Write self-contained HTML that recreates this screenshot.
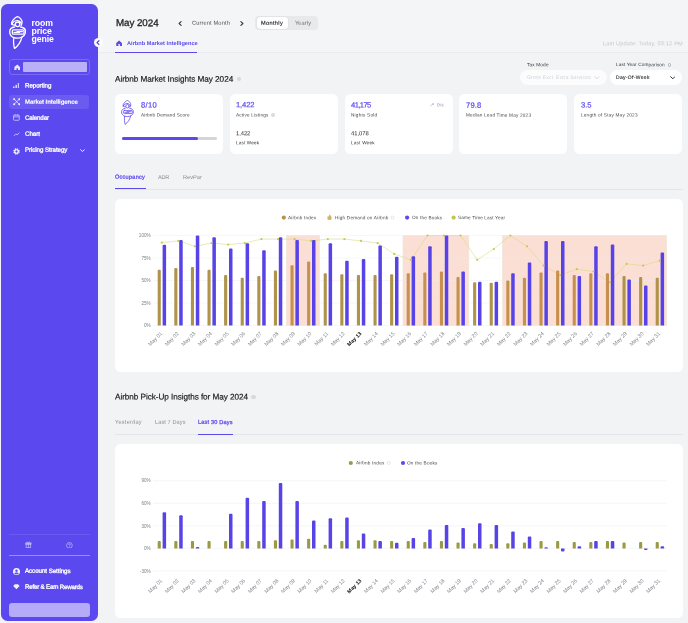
<!DOCTYPE html>
<html><head><meta charset="utf-8">
<style>
*{box-sizing:border-box;margin:0;padding:0}
html,body{width:688px;height:623px;overflow:hidden;background:#f1f3f5;font-family:"Liberation Sans",sans-serif;color:#222}
.a{position:absolute;white-space:nowrap;line-height:1}
#sb{position:absolute;left:1px;top:4px;width:96.700px;height:616.5px;background:#5b48ee;border-radius:6.5px}
.card{position:absolute;background:#fff;border-radius:5.5px}
svg text{font-family:"Liberation Sans",sans-serif}
.ax{font-size:4.6px;fill:#7d8187}
.xl{font-size:5.3px;fill:#7d8187}
.xl.b{font-weight:bold;fill:#111}
</style></head><body>
<div class="a" style="left:98px;top:0;width:590px;height:53px;background:#f3f5f7;border-bottom:.6px solid #e9ebee"></div>
<div id="sb"></div>
<!-- logo -->
<svg class="a" style="left:8.600px;top:15.900px" width="17.200" height="33.400" viewBox="0 0 17.200 33.400" fill="none" stroke="#fff" stroke-width="1.300" stroke-linecap="round" stroke-linejoin="round">
  <path d="M2.800 8C1.700 6 5.800 1.400 8.400 .7c2.200 .3 5.200 3.500 4.600 5.900-.1 1-.4 2-.8 2.800"/>
  <path d="M2.800 8C4.500 5.200 7.500 4 9.500 4.800c1.300 .5 2.100 1.300 2.500 2.200"/>
  <path d="M2.800 8c.8 .8 2 1.200 3.100 1"/>
  <circle cx="8.600" cy="8.300" r="2.300"/>
  <path d="M5.600 11C3 11.300 .7 13 .7 15.800c0 2.800 1.800 5 4.200 5.800-.7 3.400-.3 7.400 .6 11 3.500-2.600 6.300-6.600 7.400-11.400 2.100-1 3.600-3 3.600-5.600 0-2.600-2-4.300-4.900-4.600"/>
  <rect x="3.300" y="13.900" width="11.700" height="4.200" rx="1.200"/>
  <path d="M5 16.400h5.500M8 15.600h5.400M4.900 21.600c2.600 .8 5.500 .6 8-.4"/>
</svg>
<div class="a" style="left:31.600px;top:20.200px;color:#fff;font-size:8.700px;font-weight:bold;line-height:7.800px;letter-spacing:-.12px">room<br>price<br>genie</div>

<div class="a" style="left:8.800px;top:59.200px;width:81px;height:16px;border:.9px solid #7a6bf2;border-radius:3px"></div>
<div class="a" style="left:22.900px;top:62.400px;width:64.300px;height:9.300px;background:#b9b0f8;border-radius:1px"></div>
<svg class="a" style="left:13.800px;top:63.800px" width="6.500" height="6.600" viewBox="0 0 10 10"><path d="M5 .6L.5 4.700V9.500h3.300V6.400h2.400v3.100h3.300V4.700z" fill="#ebe8fd"/></svg>

<div class="a" style="left:9.300px;top:94.900px;width:79.800px;height:14px;background:#6c5bf0;border-radius:3px"></div>

<!-- nav icons -->
<svg class="a" style="left:13px;top:83px" width="6.400" height="5.400" viewBox="0 0 6.400 5.400" fill="#d4cefb"><rect x="0" y="3.300" width="1.600" height="2.100" rx=".4"/><rect x="2.400" y="1.700" width="1.600" height="3.700" rx=".4"/><rect x="4.800" y="0" width="1.600" height="5.400" rx=".4"/></svg>
<svg class="a" style="left:12.800px;top:98.200px" width="7.400" height="7.400" viewBox="0 0 10 10" fill="none" stroke="#fff" stroke-width=".95"><path d="M2 2l6 6M8 2L2 8"/><circle cx="1.500" cy="1.500" r=".9" fill="#fff"/><circle cx="8.500" cy="1.500" r=".9" fill="#fff"/><circle cx="1.500" cy="8.500" r=".9" fill="#fff"/><circle cx="8.500" cy="8.500" r=".9" fill="#fff"/></svg>
<svg class="a" style="left:13px;top:114.400px" width="6.800" height="6.800" viewBox="0 0 10 10" fill="none" stroke="#d9d4fc" stroke-width="1.100"><rect x=".8" y="1.600" width="8.400" height="7.600" rx="1"/><path d="M.8 4.200h8.400M3 .5v2M7 .5v2"/></svg>
<svg class="a" style="left:12.800px;top:130.600px" width="7.400" height="6.400" viewBox="0 0 10 10" fill="none" stroke="#d9d4fc" stroke-width="1.200"><path d="M.6 7.800l3-3.300 2 1.600 3.800-3.600"/></svg>
<svg class="a" style="left:12.700px;top:147.600px" width="7" height="7" viewBox="0 0 10 10"><circle cx="5" cy="5" r="3.700" fill="none" stroke="#fff" stroke-width="1.800" stroke-dasharray="1.700 1.200"/><circle cx="5" cy="5" r="2.500" fill="none" stroke="#fff" stroke-width="1.700"/></svg>
<svg class="a" style="left:80.200px;top:148.800px" width="5" height="3.400" viewBox="0 0 5 3.400" fill="none" stroke="#fff" stroke-width=".9" stroke-linecap="round"><path d="M.6 .7l1.900 1.900L4.400 .7"/></svg>

<div class="a" style="left:8.500px;top:534.300px;width:81px;height:.6px;background:#6a5af0"></div>
<div class="a" style="left:8.500px;top:554.700px;width:81px;height:.9px;background:#9a8ff6"></div>
<svg class="a" style="left:25.400px;top:541.400px" width="6.800" height="7" viewBox="0 0 10 10" fill="none" stroke="#cdc7fb" stroke-width="1"><rect x="1.600" y="4.300" width="6.800" height="4.900"/><rect x="1" y="2.900" width="8" height="1.500"/><path d="M5 2.900V9.200M5 2.900C3.600 .4 1.900 1.500 3 2.900M5 2.900C6.400 .4 8.100 1.500 7 2.900"/></svg>
<svg class="a" style="left:66.400px;top:541.600px" width="6.800" height="6.800" viewBox="0 0 10 10" fill="none" stroke="#cdc7fb" stroke-width=".95"><circle cx="5" cy="5" r="4.200"/><path d="M3.800 4.100C3.800 2.400 6.300 2.400 6.300 3.900C6.300 4.900 5 5 5 6.100" stroke-width=".9"/><circle cx="5" cy="7.500" r=".3"/></svg>
<svg class="a" style="left:13px;top:567.600px" width="7" height="7" viewBox="0 0 10 10"><circle cx="5" cy="5" r="5" fill="#f3f1fe"/><circle cx="5" cy="3.900" r="1.700" fill="#5b48ee"/><path d="M1.900 8.200c.7-2.500 5.500-2.500 6.200 0-.9 1-5.300 1-6.200 0z" fill="#5b48ee"/></svg>
<svg class="a" style="left:13px;top:584.200px" width="6.800" height="5.400" viewBox="0 0 10 8"><path d="M.3 3L2.600 .4h4.800L9.700 3 5 7.700z" fill="#f3f1fe"/></svg>
<div class="a" style="left:8.800px;top:602.600px;width:81.200px;height:14.400px;background:#b6abf8;border-radius:3px"></div>

<!-- collapse handle -->
<div class="a" style="left:93.800px;top:38.300px;width:8.800px;height:8.800px;border-radius:50%;background:#fcfcfe"></div>
<svg class="a" style="left:96px;top:40px" width="3.800" height="5.200" viewBox="0 0 3.800 5.200" fill="none" stroke="#4f3fd0" stroke-width="1.250" stroke-linecap="round" stroke-linejoin="round"><path d="M2.900 .8L1 2.600l1.900 1.800"/></svg>

<!-- header -->
<svg class="a" style="left:178.400px;top:20.500px" width="4" height="5" viewBox="0 0 4 5" fill="none" stroke="#33363b" stroke-width="1.100" stroke-linecap="round" stroke-linejoin="round"><path d="M3.100 .7L1.100 2.500l2 1.800"/></svg>
<svg class="a" style="left:239.600px;top:20.500px" width="4" height="5" viewBox="0 0 4 5" fill="none" stroke="#33363b" stroke-width="1.100" stroke-linecap="round" stroke-linejoin="round"><path d="M.9 .7l2 1.800-2 1.800"/></svg>
<div class="a" style="left:254.500px;top:15.600px;width:63.400px;height:14.400px;background:#e7e9eb;border-radius:4px"></div>
<div class="a" style="left:256.500px;top:17px;width:31.500px;height:11.600px;background:#fff;border-radius:3px;box-shadow:0 0 1.200px rgba(0,0,0,.18)"></div>

<svg class="a" style="left:116.200px;top:40px" width="6.200" height="6.400" viewBox="0 0 10 10"><path d="M5 .5L.4 4.700V9.600h3.400V6.500h2.400v3.100h3.400V4.700z" fill="#5b48ee"/></svg>
<div class="a" style="left:115px;top:51.900px;width:82.400px;height:1.100px;background:#5b48ee"></div>

<div class="a" style="left:236.600px;top:77.200px;width:4.200px;height:4.200px;border-radius:50%;background:#d6d9dd"></div>
<div class="a" style="left:667.600px;top:63px;width:3.600px;height:3.600px;border-radius:50%;border:.5px solid #a9adb3"></div>
<div class="a" style="left:519.700px;top:70.200px;width:86.900px;height:14.400px;background:#fcfcfd;border-radius:8px"></div>
<svg class="a" style="left:594.200px;top:75.600px" width="5.600" height="3.600" viewBox="0 0 5.600 3.600" fill="none" stroke="#c9ccd1" stroke-width=".8" stroke-linecap="round"><path d="M.7 .7l2.100 2.100L4.900 .7"/></svg>
<div class="a" style="left:609.800px;top:70.200px;width:72.700px;height:14.400px;background:#fff;border-radius:8px"></div>
<svg class="a" style="left:669.600px;top:75.600px" width="5.600" height="3.600" viewBox="0 0 5.600 3.600" fill="none" stroke="#222" stroke-width=".95" stroke-linecap="round"><path d="M.7 .7l2.100 2.100L4.900 .7"/></svg>

<!-- cards -->
<div class="card" style="left:114.900px;top:93.700px;width:108.500px;height:60.500px"></div>
<div class="card" style="left:230.200px;top:93.700px;width:108.300px;height:60.500px"></div>
<div class="card" style="left:344.600px;top:93.700px;width:108px;height:60.500px"></div>
<div class="card" style="left:459.200px;top:93.700px;width:108.100px;height:60.500px"></div>
<div class="card" style="left:573.700px;top:93.700px;width:108.400px;height:60.500px"></div>

<svg class="a" style="left:121.400px;top:100.400px" width="12.900" height="25.050" viewBox="0 0 17.200 33.400" fill="none" stroke="#5b48ee" stroke-width="1.050" stroke-linecap="round" stroke-linejoin="round">
  <path d="M2.800 8C1.700 6 5.800 1.400 8.400 .7c2.200 .3 5.200 3.500 4.600 5.900-.1 1-.4 2-.8 2.800"/>
  <path d="M2.800 8C4.500 5.200 7.500 4 9.500 4.800c1.300 .5 2.100 1.300 2.500 2.200"/>
  <path d="M2.800 8c.8 .8 2 1.200 3.100 1"/>
  <circle cx="8.600" cy="8.300" r="2.300"/>
  <path d="M5.600 11C3 11.300 .7 13 .7 15.800c0 2.800 1.800 5 4.200 5.800-.7 3.400-.3 7.400 .6 11 3.500-2.600 6.300-6.600 7.400-11.400 2.100-1 3.600-3 3.600-5.600 0-2.600-2-4.300-4.900-4.600"/>
  <rect x="3.300" y="13.900" width="11.700" height="4.200" rx="1.200"/>
  <path d="M5 16.400h5.500M8 15.600h5.400M4.900 21.600c2.600 .8 5.500 .6 8-.4"/>
</svg>
<div class="a" style="left:122px;top:136.600px;width:95px;height:3.200px;border-radius:2px;background:#d3d5d9"></div>
<div class="a" style="left:122px;top:136.600px;width:76px;height:3.200px;border-radius:2px;background:#5b48ee"></div>
<div class="a" style="left:271.400px;top:113.400px;width:3.600px;height:3.600px;border-radius:50%;background:#d9dce0"></div>
<svg class="a" style="left:429.800px;top:103.200px" width="4.200" height="3.400" viewBox="0 0 5 4" fill="none" stroke="#8d93b5" stroke-width=".6"><path d="M.5 3.300L4 1M2.600 .8h1.600v1.500"/></svg>

<!-- tabs 1 -->
<div class="a" style="left:115px;top:188.500px;width:567.500px;height:.8px;background:#e4e6e9"></div>
<div class="a" style="left:115px;top:188px;width:30.600px;height:1.200px;background:#5b48ee"></div>

<div class="card" style="left:115.400px;top:199.200px;width:567.200px;height:173.300px"></div>
<div class="card" style="left:115.400px;top:444px;width:567.200px;height:173.800px"></div>

<div class="a" style="left:251.400px;top:394.900px;width:4.200px;height:4.200px;border-radius:50%;background:#d6d9dd"></div>
<div class="a" style="left:115px;top:434px;width:567.500px;height:.8px;background:#e4e6e9"></div>
<div class="a" style="left:198px;top:433.500px;width:34.800px;height:1.100px;background:#5b48ee"></div>

<svg class="a" style="left:0;top:0" width="688" height="623" viewBox="0 0 688 623">
<circle cx="283.800" cy="217.600" r="2.100" fill="#b3954a"/>
<path d="M329.600 214.300c.3 1.200 2.100 1.900 2.100 3.600a2.200 2.200 0 0 1-4.400 0c0-.9.500-1.500.9-1.900.1.500.4.800.8.800-.1-1 .1-1.900.6-2.500z" fill="#d6b268"/>
<circle cx="392.500" cy="217.600" r="1.500" fill="none" stroke="#c9ccd1" stroke-width=".5"/>
<circle cx="407.100" cy="217.600" r="2.100" fill="#5b48ee"/>
<circle cx="453.600" cy="217.600" r="2.100" fill="#c2c44e"/>
<rect x="286.5" y="235.5" width="33.0" height="90.0" fill="#fbdfd4" stroke="#f1e6d6" stroke-width=".7"/>
<rect x="403" y="235.5" width="65.8" height="90.0" fill="#fbdfd4" stroke="#f1e6d6" stroke-width=".7"/>
<rect x="502.6" y="235.5" width="163.9" height="90.0" fill="#fbdfd4" stroke="#f1e6d6" stroke-width=".7"/>
<line x1="153" x2="667" y1="235.5" y2="235.5" stroke="#e9ebee" stroke-opacity=".7" stroke-width="0.6"/>
<text x="150.6" y="237.1" text-anchor="end" class="ax">100%</text>
<line x1="153" x2="667" y1="258.0" y2="258.0" stroke="#e9ebee" stroke-opacity=".7" stroke-width="0.6"/>
<text x="150.6" y="259.6" text-anchor="end" class="ax">75%</text>
<line x1="153" x2="667" y1="280.5" y2="280.5" stroke="#e9ebee" stroke-opacity=".7" stroke-width="0.6"/>
<text x="150.6" y="282.1" text-anchor="end" class="ax">50%</text>
<line x1="153" x2="667" y1="303.0" y2="303.0" stroke="#e9ebee" stroke-opacity=".7" stroke-width="0.6"/>
<text x="150.6" y="304.6" text-anchor="end" class="ax">25%</text>
<line x1="153" x2="667" y1="325.5" y2="325.5" stroke="#e9ebee" stroke-opacity=".7" stroke-width="0.6"/>
<text x="150.6" y="327.1" text-anchor="end" class="ax">0%</text>
<polyline points="161.8,242.7 178.4,240.9 195.0,246.3 211.6,243.1 228.2,244.5 244.8,243.1 261.4,239.1 278.0,239.1 294.6,239.1 311.2,240.9 327.8,239.1 344.4,239.1 361.0,240.9 377.6,243.1 394.2,253.9 410.8,259.8 427.4,235.5 444.0,235.5 460.6,235.5 477.2,259.8 493.8,249.0 510.4,235.5 527.0,246.3 543.6,265.6 560.2,275.1 576.8,269.2 593.4,271.5 610.0,282.3 626.6,263.9 643.2,265.6 659.8,260.7" fill="none" stroke="#d6d87c" stroke-width="0.55"/>
<path d="M157.70 325.50V270.70a1.00 1.00 0 0 1 1.00 -1.00H159.80a1.00 1.00 0 0 1 1.00 1.00V325.50z" fill="#b0934a"/>
<path d="M162.60 325.50V245.77a1.00 1.00 0 0 1 1.00 -1.00H165.10a1.00 1.00 0 0 1 1.00 1.00V325.50z" fill="#5843e6"/>
<path d="M174.30 325.50V268.90a1.00 1.00 0 0 1 1.00 -1.00H176.40a1.00 1.00 0 0 1 1.00 1.00V325.50z" fill="#b0934a"/>
<path d="M179.20 325.50V241.00a1.00 1.00 0 0 1 1.00 -1.00H181.70a1.00 1.00 0 0 1 1.00 1.00V325.50z" fill="#5843e6"/>
<path d="M190.90 325.50V268.00a1.00 1.00 0 0 1 1.00 -1.00H193.00a1.00 1.00 0 0 1 1.00 1.00V325.50z" fill="#b0934a"/>
<path d="M195.80 325.50V236.50a1.00 1.00 0 0 1 1.00 -1.00H198.30a1.00 1.00 0 0 1 1.00 1.00V325.50z" fill="#5843e6"/>
<path d="M207.50 325.50V270.70a1.00 1.00 0 0 1 1.00 -1.00H209.60a1.00 1.00 0 0 1 1.00 1.00V325.50z" fill="#b0934a"/>
<path d="M212.40 325.50V238.30a1.00 1.00 0 0 1 1.00 -1.00H214.90a1.00 1.00 0 0 1 1.00 1.00V325.50z" fill="#5843e6"/>
<path d="M224.10 325.50V276.10a1.00 1.00 0 0 1 1.00 -1.00H226.20a1.00 1.00 0 0 1 1.00 1.00V325.50z" fill="#b0934a"/>
<path d="M229.00 325.50V249.55a1.00 1.00 0 0 1 1.00 -1.00H231.50a1.00 1.00 0 0 1 1.00 1.00V325.50z" fill="#5843e6"/>
<path d="M240.70 325.50V278.80a1.00 1.00 0 0 1 1.00 -1.00H242.80a1.00 1.00 0 0 1 1.00 1.00V325.50z" fill="#b0934a"/>
<path d="M245.60 325.50V244.15a1.00 1.00 0 0 1 1.00 -1.00H248.10a1.00 1.00 0 0 1 1.00 1.00V325.50z" fill="#5843e6"/>
<path d="M257.30 325.50V277.00a1.00 1.00 0 0 1 1.00 -1.00H259.40a1.00 1.00 0 0 1 1.00 1.00V325.50z" fill="#b0934a"/>
<path d="M262.20 325.50V251.35a1.00 1.00 0 0 1 1.00 -1.00H264.70a1.00 1.00 0 0 1 1.00 1.00V325.50z" fill="#5843e6"/>
<path d="M273.90 325.50V271.60a1.00 1.00 0 0 1 1.00 -1.00H276.00a1.00 1.00 0 0 1 1.00 1.00V325.50z" fill="#b0934a"/>
<path d="M278.80 325.50V238.30a1.00 1.00 0 0 1 1.00 -1.00H281.30a1.00 1.00 0 0 1 1.00 1.00V325.50z" fill="#5843e6"/>
<path d="M290.50 325.50V266.20a1.00 1.00 0 0 1 1.00 -1.00H292.60a1.00 1.00 0 0 1 1.00 1.00V325.50z" fill="#c8904f"/>
<path d="M295.40 325.50V241.00a1.00 1.00 0 0 1 1.00 -1.00H297.90a1.00 1.00 0 0 1 1.00 1.00V325.50z" fill="#5843e6"/>
<path d="M307.10 325.50V262.60a1.00 1.00 0 0 1 1.00 -1.00H309.20a1.00 1.00 0 0 1 1.00 1.00V325.50z" fill="#c8904f"/>
<path d="M312.00 325.50V241.00a1.00 1.00 0 0 1 1.00 -1.00H314.50a1.00 1.00 0 0 1 1.00 1.00V325.50z" fill="#5843e6"/>
<path d="M323.70 325.50V274.30a1.00 1.00 0 0 1 1.00 -1.00H325.80a1.00 1.00 0 0 1 1.00 1.00V325.50z" fill="#b0934a"/>
<path d="M328.60 325.50V244.15a1.00 1.00 0 0 1 1.00 -1.00H331.10a1.00 1.00 0 0 1 1.00 1.00V325.50z" fill="#5843e6"/>
<path d="M340.30 325.50V275.20a1.00 1.00 0 0 1 1.00 -1.00H342.40a1.00 1.00 0 0 1 1.00 1.00V325.50z" fill="#b0934a"/>
<path d="M345.20 325.50V261.70a1.00 1.00 0 0 1 1.00 -1.00H347.70a1.00 1.00 0 0 1 1.00 1.00V325.50z" fill="#5843e6"/>
<path d="M356.90 325.50V276.10a1.00 1.00 0 0 1 1.00 -1.00H359.00a1.00 1.00 0 0 1 1.00 1.00V325.50z" fill="#b0934a"/>
<path d="M361.80 325.50V259.90a1.00 1.00 0 0 1 1.00 -1.00H364.30a1.00 1.00 0 0 1 1.00 1.00V325.50z" fill="#5843e6"/>
<path d="M373.50 325.50V276.10a1.00 1.00 0 0 1 1.00 -1.00H375.60a1.00 1.00 0 0 1 1.00 1.00V325.50z" fill="#b0934a"/>
<path d="M378.40 325.50V246.40a1.00 1.00 0 0 1 1.00 -1.00H380.90a1.00 1.00 0 0 1 1.00 1.00V325.50z" fill="#5843e6"/>
<path d="M390.10 325.50V275.20a1.00 1.00 0 0 1 1.00 -1.00H392.20a1.00 1.00 0 0 1 1.00 1.00V325.50z" fill="#b0934a"/>
<path d="M395.00 325.50V257.65a1.00 1.00 0 0 1 1.00 -1.00H397.50a1.00 1.00 0 0 1 1.00 1.00V325.50z" fill="#5843e6"/>
<path d="M406.70 325.50V274.30a1.00 1.00 0 0 1 1.00 -1.00H408.80a1.00 1.00 0 0 1 1.00 1.00V325.50z" fill="#c8904f"/>
<path d="M411.60 325.50V257.20a1.00 1.00 0 0 1 1.00 -1.00H414.10a1.00 1.00 0 0 1 1.00 1.00V325.50z" fill="#5843e6"/>
<path d="M423.30 325.50V273.40a1.00 1.00 0 0 1 1.00 -1.00H425.40a1.00 1.00 0 0 1 1.00 1.00V325.50z" fill="#c8904f"/>
<path d="M428.20 325.50V247.30a1.00 1.00 0 0 1 1.00 -1.00H430.70a1.00 1.00 0 0 1 1.00 1.00V325.50z" fill="#5843e6"/>
<path d="M439.90 325.50V272.50a1.00 1.00 0 0 1 1.00 -1.00H442.00a1.00 1.00 0 0 1 1.00 1.00V325.50z" fill="#c8904f"/>
<path d="M444.80 325.50V236.50a1.00 1.00 0 0 1 1.00 -1.00H447.30a1.00 1.00 0 0 1 1.00 1.00V325.50z" fill="#5843e6"/>
<path d="M456.50 325.50V277.90a1.00 1.00 0 0 1 1.00 -1.00H458.60a1.00 1.00 0 0 1 1.00 1.00V325.50z" fill="#c8904f"/>
<path d="M461.40 325.50V272.50a1.00 1.00 0 0 1 1.00 -1.00H463.90a1.00 1.00 0 0 1 1.00 1.00V325.50z" fill="#5843e6"/>
<path d="M473.10 325.50V283.30a1.00 1.00 0 0 1 1.00 -1.00H475.20a1.00 1.00 0 0 1 1.00 1.00V325.50z" fill="#b0934a"/>
<path d="M478.00 325.50V282.85a1.00 1.00 0 0 1 1.00 -1.00H480.50a1.00 1.00 0 0 1 1.00 1.00V325.50z" fill="#5843e6"/>
<path d="M489.70 325.50V283.75a1.00 1.00 0 0 1 1.00 -1.00H491.80a1.00 1.00 0 0 1 1.00 1.00V325.50z" fill="#b0934a"/>
<path d="M494.60 325.50V282.85a1.00 1.00 0 0 1 1.00 -1.00H497.10a1.00 1.00 0 0 1 1.00 1.00V325.50z" fill="#5843e6"/>
<path d="M506.30 325.50V281.50a1.00 1.00 0 0 1 1.00 -1.00H508.40a1.00 1.00 0 0 1 1.00 1.00V325.50z" fill="#c8904f"/>
<path d="M511.20 325.50V274.30a1.00 1.00 0 0 1 1.00 -1.00H513.70a1.00 1.00 0 0 1 1.00 1.00V325.50z" fill="#5843e6"/>
<path d="M522.90 325.50V278.80a1.00 1.00 0 0 1 1.00 -1.00H525.00a1.00 1.00 0 0 1 1.00 1.00V325.50z" fill="#c8904f"/>
<path d="M527.80 325.50V263.50a1.00 1.00 0 0 1 1.00 -1.00H530.30a1.00 1.00 0 0 1 1.00 1.00V325.50z" fill="#5843e6"/>
<path d="M539.50 325.50V273.40a1.00 1.00 0 0 1 1.00 -1.00H541.60a1.00 1.00 0 0 1 1.00 1.00V325.50z" fill="#c8904f"/>
<path d="M544.40 325.50V241.90a1.00 1.00 0 0 1 1.00 -1.00H546.90a1.00 1.00 0 0 1 1.00 1.00V325.50z" fill="#5843e6"/>
<path d="M556.10 325.50V271.60a1.00 1.00 0 0 1 1.00 -1.00H558.20a1.00 1.00 0 0 1 1.00 1.00V325.50z" fill="#c8904f"/>
<path d="M561.00 325.50V241.90a1.00 1.00 0 0 1 1.00 -1.00H563.50a1.00 1.00 0 0 1 1.00 1.00V325.50z" fill="#5843e6"/>
<path d="M572.70 325.50V276.10a1.00 1.00 0 0 1 1.00 -1.00H574.80a1.00 1.00 0 0 1 1.00 1.00V325.50z" fill="#c8904f"/>
<path d="M577.60 325.50V277.00a1.00 1.00 0 0 1 1.00 -1.00H580.10a1.00 1.00 0 0 1 1.00 1.00V325.50z" fill="#5843e6"/>
<path d="M589.30 325.50V274.30a1.00 1.00 0 0 1 1.00 -1.00H591.40a1.00 1.00 0 0 1 1.00 1.00V325.50z" fill="#c8904f"/>
<path d="M594.20 325.50V247.30a1.00 1.00 0 0 1 1.00 -1.00H596.70a1.00 1.00 0 0 1 1.00 1.00V325.50z" fill="#5843e6"/>
<path d="M605.90 325.50V274.30a1.00 1.00 0 0 1 1.00 -1.00H608.00a1.00 1.00 0 0 1 1.00 1.00V325.50z" fill="#c8904f"/>
<path d="M610.80 325.50V245.50a1.00 1.00 0 0 1 1.00 -1.00H613.30a1.00 1.00 0 0 1 1.00 1.00V325.50z" fill="#5843e6"/>
<path d="M622.50 325.50V277.00a1.00 1.00 0 0 1 1.00 -1.00H624.60a1.00 1.00 0 0 1 1.00 1.00V325.50z" fill="#b0934a"/>
<path d="M627.40 325.50V280.60a1.00 1.00 0 0 1 1.00 -1.00H629.90a1.00 1.00 0 0 1 1.00 1.00V325.50z" fill="#5843e6"/>
<path d="M639.10 325.50V277.90a1.00 1.00 0 0 1 1.00 -1.00H641.20a1.00 1.00 0 0 1 1.00 1.00V325.50z" fill="#b0934a"/>
<path d="M644.00 325.50V286.45a1.00 1.00 0 0 1 1.00 -1.00H646.50a1.00 1.00 0 0 1 1.00 1.00V325.50z" fill="#5843e6"/>
<path d="M655.70 325.50V278.80a1.00 1.00 0 0 1 1.00 -1.00H657.80a1.00 1.00 0 0 1 1.00 1.00V325.50z" fill="#b0934a"/>
<path d="M660.60 325.50V253.60a1.00 1.00 0 0 1 1.00 -1.00H663.10a1.00 1.00 0 0 1 1.00 1.00V325.50z" fill="#5843e6"/>
<circle cx="161.8" cy="242.7" r="1.1" fill="#c5c853"/>
<circle cx="178.4" cy="240.9" r="1.1" fill="#c5c853"/>
<circle cx="195.0" cy="246.3" r="1.1" fill="#c5c853"/>
<circle cx="211.6" cy="243.1" r="1.1" fill="#c5c853"/>
<circle cx="228.2" cy="244.5" r="1.1" fill="#c5c853"/>
<circle cx="244.8" cy="243.1" r="1.1" fill="#c5c853"/>
<circle cx="261.4" cy="239.1" r="1.1" fill="#c5c853"/>
<circle cx="278.0" cy="239.1" r="1.1" fill="#c5c853"/>
<circle cx="294.6" cy="239.1" r="1.1" fill="#c5c853"/>
<circle cx="311.2" cy="240.9" r="1.1" fill="#c5c853"/>
<circle cx="327.8" cy="239.1" r="1.1" fill="#c5c853"/>
<circle cx="344.4" cy="239.1" r="1.1" fill="#c5c853"/>
<circle cx="361.0" cy="240.9" r="1.1" fill="#c5c853"/>
<circle cx="377.6" cy="243.1" r="1.1" fill="#c5c853"/>
<circle cx="394.2" cy="253.9" r="1.1" fill="#c5c853"/>
<circle cx="410.8" cy="259.8" r="1.1" fill="#c5c853"/>
<circle cx="427.4" cy="235.5" r="1.1" fill="#c5c853"/>
<circle cx="444.0" cy="235.5" r="1.1" fill="#c5c853"/>
<circle cx="460.6" cy="235.5" r="1.1" fill="#c5c853"/>
<circle cx="477.2" cy="259.8" r="1.1" fill="#c5c853"/>
<circle cx="493.8" cy="249.0" r="1.1" fill="#c5c853"/>
<circle cx="510.4" cy="235.5" r="1.1" fill="#c5c853"/>
<circle cx="527.0" cy="246.3" r="1.1" fill="#c5c853"/>
<circle cx="543.6" cy="265.6" r="1.1" fill="#c5c853"/>
<circle cx="560.2" cy="275.1" r="1.1" fill="#c5c853"/>
<circle cx="576.8" cy="269.2" r="1.1" fill="#c5c853"/>
<circle cx="593.4" cy="271.5" r="1.1" fill="#c5c853"/>
<circle cx="610.0" cy="282.3" r="1.1" fill="#c5c853"/>
<circle cx="626.6" cy="263.9" r="1.1" fill="#c5c853"/>
<circle cx="643.2" cy="265.6" r="1.1" fill="#c5c853"/>
<circle cx="659.8" cy="260.7" r="1.1" fill="#c5c853"/>
<text transform="translate(162.6,334.0) rotate(-45)" text-anchor="end" class="xl">May 01</text>
<text transform="translate(179.2,334.0) rotate(-45)" text-anchor="end" class="xl">May 02</text>
<text transform="translate(195.8,334.0) rotate(-45)" text-anchor="end" class="xl">May 03</text>
<text transform="translate(212.4,334.0) rotate(-45)" text-anchor="end" class="xl">May 04</text>
<text transform="translate(229.0,334.0) rotate(-45)" text-anchor="end" class="xl">May 05</text>
<text transform="translate(245.6,334.0) rotate(-45)" text-anchor="end" class="xl">May 06</text>
<text transform="translate(262.2,334.0) rotate(-45)" text-anchor="end" class="xl">May 07</text>
<text transform="translate(278.8,334.0) rotate(-45)" text-anchor="end" class="xl">May 08</text>
<text transform="translate(295.4,334.0) rotate(-45)" text-anchor="end" class="xl">May 09</text>
<text transform="translate(311.9,334.0) rotate(-45)" text-anchor="end" class="xl">May 10</text>
<text transform="translate(328.6,334.0) rotate(-45)" text-anchor="end" class="xl">May 11</text>
<text transform="translate(345.2,334.0) rotate(-45)" text-anchor="end" class="xl">May 12</text>
<text transform="translate(361.8,334.0) rotate(-45)" text-anchor="end" class="xl b">May 13</text>
<text transform="translate(378.4,334.0) rotate(-45)" text-anchor="end" class="xl">May 14</text>
<text transform="translate(395.0,334.0) rotate(-45)" text-anchor="end" class="xl">May 15</text>
<text transform="translate(411.6,334.0) rotate(-45)" text-anchor="end" class="xl">May 16</text>
<text transform="translate(428.2,334.0) rotate(-45)" text-anchor="end" class="xl">May 17</text>
<text transform="translate(444.8,334.0) rotate(-45)" text-anchor="end" class="xl">May 18</text>
<text transform="translate(461.4,334.0) rotate(-45)" text-anchor="end" class="xl">May 19</text>
<text transform="translate(478.0,334.0) rotate(-45)" text-anchor="end" class="xl">May 20</text>
<text transform="translate(494.6,334.0) rotate(-45)" text-anchor="end" class="xl">May 21</text>
<text transform="translate(511.2,334.0) rotate(-45)" text-anchor="end" class="xl">May 22</text>
<text transform="translate(527.8,334.0) rotate(-45)" text-anchor="end" class="xl">May 23</text>
<text transform="translate(544.3,334.0) rotate(-45)" text-anchor="end" class="xl">May 24</text>
<text transform="translate(561.0,334.0) rotate(-45)" text-anchor="end" class="xl">May 25</text>
<text transform="translate(577.5,334.0) rotate(-45)" text-anchor="end" class="xl">May 26</text>
<text transform="translate(594.1,334.0) rotate(-45)" text-anchor="end" class="xl">May 27</text>
<text transform="translate(610.8,334.0) rotate(-45)" text-anchor="end" class="xl">May 28</text>
<text transform="translate(627.4,334.0) rotate(-45)" text-anchor="end" class="xl">May 29</text>
<text transform="translate(644.0,334.0) rotate(-45)" text-anchor="end" class="xl">May 30</text>
<text transform="translate(660.5,334.0) rotate(-45)" text-anchor="end" class="xl">May 31</text>
<circle cx="350.800" cy="463" r="2.100" fill="#9b9943"/>
<circle cx="388.700" cy="463" r="1.500" fill="none" stroke="#c9ccd1" stroke-width=".5"/>
<circle cx="403" cy="463" r="2.100" fill="#5b48ee"/>
<line x1="153" x2="667" y1="480.8" y2="480.8" stroke="#edeff1" stroke-width="0.6"/>
<text x="150.6" y="482.4" text-anchor="end" class="ax">90%</text>
<line x1="153" x2="667" y1="503.3" y2="503.3" stroke="#edeff1" stroke-width="0.6"/>
<text x="150.6" y="504.9" text-anchor="end" class="ax">60%</text>
<line x1="153" x2="667" y1="525.9" y2="525.9" stroke="#edeff1" stroke-width="0.6"/>
<text x="150.6" y="527.5" text-anchor="end" class="ax">30%</text>
<line x1="153" x2="667" y1="548.4" y2="548.4" stroke="#edeff1" stroke-width="0.6"/>
<text x="150.6" y="550.0" text-anchor="end" class="ax">0%</text>
<line x1="153" x2="667" y1="570.9" y2="570.9" stroke="#edeff1" stroke-width="0.6"/>
<text x="150.6" y="572.5" text-anchor="end" class="ax">-30%</text>
<path d="M157.70 548.40V541.89a1.00 1.00 0 0 1 1.00 -1.00H159.80a1.00 1.00 0 0 1 1.00 1.00V548.40z" fill="#9b9943"/>
<path d="M162.60 548.40V513.35a1.00 1.00 0 0 1 1.00 -1.00H165.10a1.00 1.00 0 0 1 1.00 1.00V548.40z" fill="#5843e6"/>
<path d="M174.30 548.40V541.89a1.00 1.00 0 0 1 1.00 -1.00H176.40a1.00 1.00 0 0 1 1.00 1.00V548.40z" fill="#9b9943"/>
<path d="M179.20 548.40V516.35a1.00 1.00 0 0 1 1.00 -1.00H181.70a1.00 1.00 0 0 1 1.00 1.00V548.40z" fill="#5843e6"/>
<path d="M190.90 548.40V541.89a1.00 1.00 0 0 1 1.00 -1.00H193.00a1.00 1.00 0 0 1 1.00 1.00V548.40z" fill="#9b9943"/>
<path d="M195.80 548.40V547.90a1.00 1.00 0 0 1 1.00 -1.00H198.30a1.00 1.00 0 0 1 1.00 1.00V548.40z" fill="#5843e6"/>
<path d="M207.50 548.40V541.89a1.00 1.00 0 0 1 1.00 -1.00H209.60a1.00 1.00 0 0 1 1.00 1.00V548.40z" fill="#9b9943"/>

<path d="M224.10 548.40V541.89a1.00 1.00 0 0 1 1.00 -1.00H226.20a1.00 1.00 0 0 1 1.00 1.00V548.40z" fill="#9b9943"/>
<path d="M229.00 548.40V514.85a1.00 1.00 0 0 1 1.00 -1.00H231.50a1.00 1.00 0 0 1 1.00 1.00V548.40z" fill="#5843e6"/>
<path d="M240.70 548.40V541.89a1.00 1.00 0 0 1 1.00 -1.00H242.80a1.00 1.00 0 0 1 1.00 1.00V548.40z" fill="#9b9943"/>
<path d="M245.60 548.40V498.70a1.00 1.00 0 0 1 1.00 -1.00H248.10a1.00 1.00 0 0 1 1.00 1.00V548.40z" fill="#5843e6"/>
<path d="M257.30 548.40V541.89a1.00 1.00 0 0 1 1.00 -1.00H259.40a1.00 1.00 0 0 1 1.00 1.00V548.40z" fill="#9b9943"/>
<path d="M262.20 548.40V502.08a1.00 1.00 0 0 1 1.00 -1.00H264.70a1.00 1.00 0 0 1 1.00 1.00V548.40z" fill="#5843e6"/>
<path d="M273.90 548.40V541.14a1.00 1.00 0 0 1 1.00 -1.00H276.00a1.00 1.00 0 0 1 1.00 1.00V548.40z" fill="#9b9943"/>
<path d="M278.80 548.40V484.05a1.00 1.00 0 0 1 1.00 -1.00H281.30a1.00 1.00 0 0 1 1.00 1.00V548.40z" fill="#5843e6"/>
<path d="M290.50 548.40V540.39a1.00 1.00 0 0 1 1.00 -1.00H292.60a1.00 1.00 0 0 1 1.00 1.00V548.40z" fill="#9b9943"/>
<path d="M295.40 548.40V502.08a1.00 1.00 0 0 1 1.00 -1.00H297.90a1.00 1.00 0 0 1 1.00 1.00V548.40z" fill="#5843e6"/>
<path d="M307.10 548.40V539.64a1.00 1.00 0 0 1 1.00 -1.00H309.20a1.00 1.00 0 0 1 1.00 1.00V548.40z" fill="#9b9943"/>
<path d="M312.00 548.40V521.61a1.00 1.00 0 0 1 1.00 -1.00H314.50a1.00 1.00 0 0 1 1.00 1.00V548.40z" fill="#5843e6"/>
<path d="M323.70 548.40V545.64a1.00 1.00 0 0 1 1.00 -1.00H325.80a1.00 1.00 0 0 1 1.00 1.00V548.40z" fill="#9b9943"/>
<path d="M328.60 548.40V519.36a1.00 1.00 0 0 1 1.00 -1.00H331.10a1.00 1.00 0 0 1 1.00 1.00V548.40z" fill="#5843e6"/>
<path d="M340.30 548.40V541.89a1.00 1.00 0 0 1 1.00 -1.00H342.40a1.00 1.00 0 0 1 1.00 1.00V548.40z" fill="#9b9943"/>
<path d="M345.20 548.40V518.60a1.00 1.00 0 0 1 1.00 -1.00H347.70a1.00 1.00 0 0 1 1.00 1.00V548.40z" fill="#5843e6"/>
<path d="M356.90 548.40V541.14a1.00 1.00 0 0 1 1.00 -1.00H359.00a1.00 1.00 0 0 1 1.00 1.00V548.40z" fill="#9b9943"/>
<path d="M361.80 548.40V534.38a1.00 1.00 0 0 1 1.00 -1.00H364.30a1.00 1.00 0 0 1 1.00 1.00V548.40z" fill="#5843e6"/>
<path d="M373.50 548.40V541.14a1.00 1.00 0 0 1 1.00 -1.00H375.60a1.00 1.00 0 0 1 1.00 1.00V548.40z" fill="#9b9943"/>
<path d="M378.40 548.40V541.89a1.00 1.00 0 0 1 1.00 -1.00H380.90a1.00 1.00 0 0 1 1.00 1.00V548.40z" fill="#5843e6"/>
<path d="M390.10 548.40V541.89a1.00 1.00 0 0 1 1.00 -1.00H392.20a1.00 1.00 0 0 1 1.00 1.00V548.40z" fill="#9b9943"/>
<path d="M395.00 548.40V543.77a1.00 1.00 0 0 1 1.00 -1.00H397.50a1.00 1.00 0 0 1 1.00 1.00V548.40z" fill="#5843e6"/>
<path d="M406.70 548.40V541.89a1.00 1.00 0 0 1 1.00 -1.00H408.80a1.00 1.00 0 0 1 1.00 1.00V548.40z" fill="#9b9943"/>
<path d="M411.60 548.40V538.88a1.00 1.00 0 0 1 1.00 -1.00H414.10a1.00 1.00 0 0 1 1.00 1.00V548.40z" fill="#5843e6"/>
<path d="M423.30 548.40V543.02a1.00 1.00 0 0 1 1.00 -1.00H425.40a1.00 1.00 0 0 1 1.00 1.00V548.40z" fill="#9b9943"/>
<path d="M428.20 548.40V530.62a1.00 1.00 0 0 1 1.00 -1.00H430.70a1.00 1.00 0 0 1 1.00 1.00V548.40z" fill="#5843e6"/>
<path d="M439.90 548.40V541.89a1.00 1.00 0 0 1 1.00 -1.00H442.00a1.00 1.00 0 0 1 1.00 1.00V548.40z" fill="#9b9943"/>
<path d="M444.80 548.40V526.12a1.00 1.00 0 0 1 1.00 -1.00H447.30a1.00 1.00 0 0 1 1.00 1.00V548.40z" fill="#5843e6"/>
<path d="M456.50 548.40V543.39a1.00 1.00 0 0 1 1.00 -1.00H458.60a1.00 1.00 0 0 1 1.00 1.00V548.40z" fill="#9b9943"/>
<path d="M461.40 548.40V529.12a1.00 1.00 0 0 1 1.00 -1.00H463.90a1.00 1.00 0 0 1 1.00 1.00V548.40z" fill="#5843e6"/>
<path d="M473.10 548.40V544.14a1.00 1.00 0 0 1 1.00 -1.00H475.20a1.00 1.00 0 0 1 1.00 1.00V548.40z" fill="#9b9943"/>
<path d="M478.00 548.40V524.24a1.00 1.00 0 0 1 1.00 -1.00H480.50a1.00 1.00 0 0 1 1.00 1.00V548.40z" fill="#5843e6"/>
<path d="M489.70 548.40V544.89a1.00 1.00 0 0 1 1.00 -1.00H491.80a1.00 1.00 0 0 1 1.00 1.00V548.40z" fill="#9b9943"/>
<path d="M494.60 548.40V526.12a1.00 1.00 0 0 1 1.00 -1.00H497.10a1.00 1.00 0 0 1 1.00 1.00V548.40z" fill="#5843e6"/>
<path d="M506.30 548.40V544.14a1.00 1.00 0 0 1 1.00 -1.00H508.40a1.00 1.00 0 0 1 1.00 1.00V548.40z" fill="#9b9943"/>
<path d="M511.20 548.40V532.50a1.00 1.00 0 0 1 1.00 -1.00H513.70a1.00 1.00 0 0 1 1.00 1.00V548.40z" fill="#5843e6"/>
<path d="M522.90 548.40V543.39a1.00 1.00 0 0 1 1.00 -1.00H525.00a1.00 1.00 0 0 1 1.00 1.00V548.40z" fill="#9b9943"/>
<path d="M527.80 548.40V537.38a1.00 1.00 0 0 1 1.00 -1.00H530.30a1.00 1.00 0 0 1 1.00 1.00V548.40z" fill="#5843e6"/>
<path d="M539.50 548.40V541.89a1.00 1.00 0 0 1 1.00 -1.00H541.60a1.00 1.00 0 0 1 1.00 1.00V548.40z" fill="#9b9943"/>
<path d="M544.40 548.40V548.27a1.00 1.00 0 0 1 1.00 -1.00H546.90a1.00 1.00 0 0 1 1.00 1.00V548.40z" fill="#5843e6"/>
<path d="M556.10 548.40V541.89a1.00 1.00 0 0 1 1.00 -1.00H558.20a1.00 1.00 0 0 1 1.00 1.00V548.40z" fill="#9b9943"/>
<path d="M561.00 548.40V550.40a1.00 1.00 0 0 0 1.00 1.00H563.50a1.00 1.00 0 0 0 1.00 -1.00V548.40z" fill="#5843e6"/>
<path d="M572.70 548.40V543.02a1.00 1.00 0 0 1 1.00 -1.00H574.80a1.00 1.00 0 0 1 1.00 1.00V548.40z" fill="#9b9943"/>
<path d="M577.60 548.40V547.15a1.00 1.00 0 0 1 1.00 -1.00H580.10a1.00 1.00 0 0 1 1.00 1.00V548.40z" fill="#5843e6"/>
<path d="M589.30 548.40V543.02a1.00 1.00 0 0 1 1.00 -1.00H591.40a1.00 1.00 0 0 1 1.00 1.00V548.40z" fill="#9b9943"/>
<path d="M594.20 548.40V541.89a1.00 1.00 0 0 1 1.00 -1.00H596.70a1.00 1.00 0 0 1 1.00 1.00V548.40z" fill="#5843e6"/>
<path d="M605.90 548.40V541.89a1.00 1.00 0 0 1 1.00 -1.00H608.00a1.00 1.00 0 0 1 1.00 1.00V548.40z" fill="#9b9943"/>
<path d="M610.80 548.40V541.89a1.00 1.00 0 0 1 1.00 -1.00H613.30a1.00 1.00 0 0 1 1.00 1.00V548.40z" fill="#5843e6"/>
<path d="M622.50 548.40V543.39a1.00 1.00 0 0 1 1.00 -1.00H624.60a1.00 1.00 0 0 1 1.00 1.00V548.40z" fill="#9b9943"/>

<path d="M639.10 548.40V543.02a1.00 1.00 0 0 1 1.00 -1.00H641.20a1.00 1.00 0 0 1 1.00 1.00V548.40z" fill="#9b9943"/>
<path d="M644.00 548.40V548.90a1.00 1.00 0 0 0 1.00 1.00H646.50a1.00 1.00 0 0 0 1.00 -1.00V548.40z" fill="#5843e6"/>
<path d="M655.70 548.40V543.02a1.00 1.00 0 0 1 1.00 -1.00H657.80a1.00 1.00 0 0 1 1.00 1.00V548.40z" fill="#9b9943"/>
<path d="M660.60 548.40V547.15a1.00 1.00 0 0 1 1.00 -1.00H663.10a1.00 1.00 0 0 1 1.00 1.00V548.40z" fill="#5843e6"/>
<text transform="translate(162.6,581.2) rotate(-45)" text-anchor="end" class="xl">May 01</text>
<text transform="translate(179.2,581.2) rotate(-45)" text-anchor="end" class="xl">May 02</text>
<text transform="translate(195.8,581.2) rotate(-45)" text-anchor="end" class="xl">May 03</text>
<text transform="translate(212.4,581.2) rotate(-45)" text-anchor="end" class="xl">May 04</text>
<text transform="translate(229.0,581.2) rotate(-45)" text-anchor="end" class="xl">May 05</text>
<text transform="translate(245.6,581.2) rotate(-45)" text-anchor="end" class="xl">May 06</text>
<text transform="translate(262.2,581.2) rotate(-45)" text-anchor="end" class="xl">May 07</text>
<text transform="translate(278.8,581.2) rotate(-45)" text-anchor="end" class="xl">May 08</text>
<text transform="translate(295.4,581.2) rotate(-45)" text-anchor="end" class="xl">May 09</text>
<text transform="translate(311.9,581.2) rotate(-45)" text-anchor="end" class="xl">May 10</text>
<text transform="translate(328.6,581.2) rotate(-45)" text-anchor="end" class="xl">May 11</text>
<text transform="translate(345.2,581.2) rotate(-45)" text-anchor="end" class="xl">May 12</text>
<text transform="translate(361.8,581.2) rotate(-45)" text-anchor="end" class="xl b">May 13</text>
<text transform="translate(378.4,581.2) rotate(-45)" text-anchor="end" class="xl">May 14</text>
<text transform="translate(395.0,581.2) rotate(-45)" text-anchor="end" class="xl">May 15</text>
<text transform="translate(411.6,581.2) rotate(-45)" text-anchor="end" class="xl">May 16</text>
<text transform="translate(428.2,581.2) rotate(-45)" text-anchor="end" class="xl">May 17</text>
<text transform="translate(444.8,581.2) rotate(-45)" text-anchor="end" class="xl">May 18</text>
<text transform="translate(461.4,581.2) rotate(-45)" text-anchor="end" class="xl">May 19</text>
<text transform="translate(478.0,581.2) rotate(-45)" text-anchor="end" class="xl">May 20</text>
<text transform="translate(494.6,581.2) rotate(-45)" text-anchor="end" class="xl">May 21</text>
<text transform="translate(511.2,581.2) rotate(-45)" text-anchor="end" class="xl">May 22</text>
<text transform="translate(527.8,581.2) rotate(-45)" text-anchor="end" class="xl">May 23</text>
<text transform="translate(544.3,581.2) rotate(-45)" text-anchor="end" class="xl">May 24</text>
<text transform="translate(561.0,581.2) rotate(-45)" text-anchor="end" class="xl">May 25</text>
<text transform="translate(577.5,581.2) rotate(-45)" text-anchor="end" class="xl">May 26</text>
<text transform="translate(594.1,581.2) rotate(-45)" text-anchor="end" class="xl">May 27</text>
<text transform="translate(610.8,581.2) rotate(-45)" text-anchor="end" class="xl">May 28</text>
<text transform="translate(627.4,581.2) rotate(-45)" text-anchor="end" class="xl">May 29</text>
<text transform="translate(644.0,581.2) rotate(-45)" text-anchor="end" class="xl">May 30</text>
<text transform="translate(660.5,581.2) rotate(-45)" text-anchor="end" class="xl">May 31</text>
</svg>
<div class="a" style="left:24.8px;top:82px;font-size:6.2px;color:#ffffff;letter-spacing:-0.055px;transform:translateY(0.61px) rotate(.05deg);-webkit-text-stroke:0.3px #ffffff">Reporting</div>
<div class="a" style="left:24.8px;top:98px;font-size:6.0px;color:#ffffff;letter-spacing:-0.068px;transform:translateY(0.75px) rotate(.05deg);font-weight:bold;-webkit-text-stroke:0.1px #ffffff">Market Intelligence</div>
<div class="a" style="left:24.8px;top:114px;font-size:6.2px;color:#ffffff;letter-spacing:-0.161px;transform:translateY(0.79px) rotate(.05deg);-webkit-text-stroke:0.3px #ffffff">Calendar</div>
<div class="a" style="left:24.8px;top:130px;font-size:6.2px;color:#ffffff;letter-spacing:-0.060px;transform:translateY(0.87px) rotate(.05deg);-webkit-text-stroke:0.3px #ffffff">Chart</div>
<div class="a" style="left:24.8px;top:146px;font-size:6.2px;color:#ffffff;letter-spacing:-0.086px;transform:translateY(0.82px) rotate(.05deg);-webkit-text-stroke:0.3px #ffffff">Pricing Strategy</div>
<div class="a" style="left:24.8px;top:567px;font-size:6.2px;color:#ffffff;letter-spacing:-0.056px;transform:translateY(0.88px) rotate(.05deg);-webkit-text-stroke:0.3px #ffffff">Account Settings</div>
<div class="a" style="left:24.8px;top:583px;font-size:6.2px;color:#ffffff;letter-spacing:-0.211px;transform:translateY(0.87px) rotate(.05deg);-webkit-text-stroke:0.3px #ffffff">Refer &amp; Earn Rewards</div>
<div class="a" style="left:115.6px;top:18px;font-size:9.8px;color:#1f1f23;letter-spacing:-0.062px;transform:translateY(0.12px) rotate(.05deg);-webkit-text-stroke:0.3px #1f1f23">May 2024</div>
<div class="a" style="left:192.2px;top:20px;font-size:5.7px;color:#4c4f55;letter-spacing:0.120px;transform:translateY(0.65px) rotate(.05deg)">Current Month</div>
<div class="a" style="left:261.0px;top:20px;font-size:5.6px;color:#2a2a2e;letter-spacing:0.351px;transform:translateY(0.68px) rotate(.05deg);-webkit-text-stroke:0.15px #2a2a2e">Monthly</div>
<div class="a" style="left:294.8px;top:20px;font-size:5.7px;color:#6b6e74;letter-spacing:0.078px;transform:translateY(0.74px) rotate(.05deg)">Yearly</div>
<div class="a" style="left:126.6px;top:40px;font-size:5.6px;color:#5b48ee;letter-spacing:0.031px;transform:translateY(0.95px) rotate(.05deg);font-weight:bold">Airbnb Market Intelligence</div>
<div class="a" style="left:602.5px;top:41px;font-size:5.6px;color:#c5c8cc;letter-spacing:0.184px;transform:translateY(0.35px) rotate(.05deg)">Last Update: Today, 03:12 PM</div>
<div class="a" style="left:115.1px;top:75px;font-size:8.2px;color:#1f1f23;letter-spacing:-0.050px;transform:translateY(0.73px) rotate(.05deg);-webkit-text-stroke:0.2px #1f1f23">Airbnb Market Insights May 2024</div>
<div class="a" style="left:526.5px;top:63px;font-size:4.7px;color:#33363b;letter-spacing:0.167px;transform:translateY(0.17px) rotate(.05deg)">Tax Mode</div>
<div class="a" style="left:616.1px;top:63px;font-size:4.7px;color:#33363b;letter-spacing:0.136px;transform:translateY(0.12px) rotate(.05deg)">Last Year Comparison</div>
<div class="a" style="left:526.5px;top:74px;font-size:5.0px;color:#cfd2d6;letter-spacing:0.181px;transform:translateY(0.89px) rotate(.05deg)">Gross Excl. Extra Services</div>
<div class="a" style="left:616.1px;top:74px;font-size:5.0px;color:#1f1f23;letter-spacing:0.320px;transform:translateY(0.97px) rotate(.05deg);-webkit-text-stroke:0.1px #1f1f23">Day-Of-Week</div>
<div class="a" style="left:140.7px;top:101px;font-size:7.6px;color:#5b48ee;letter-spacing:0.306px;transform:translateY(0.46px) rotate(.05deg);-webkit-text-stroke:0.2px #5b48ee">8/10</div>
<div class="a" style="left:140.7px;top:113px;font-size:4.7px;color:#44474d;letter-spacing:0.132px;transform:translateY(0.46px) rotate(.05deg)">Airbnb Demand Score</div>
<div class="a" style="left:236.3px;top:101px;font-size:7.6px;color:#5b48ee;letter-spacing:-0.129px;transform:translateY(0.29px) rotate(.05deg);-webkit-text-stroke:0.2px #5b48ee">1,422</div>
<div class="a" style="left:236.3px;top:113px;font-size:4.7px;color:#44474d;letter-spacing:0.174px;transform:translateY(0.45px) rotate(.05deg)">Active Listings</div>
<div class="a" style="left:236.3px;top:131px;font-size:5.8px;color:#1f1f23;letter-spacing:-0.054px;transform:translateY(0.24px) rotate(.05deg)">1,422</div>
<div class="a" style="left:236.3px;top:141px;font-size:4.6px;color:#33363b;letter-spacing:0.172px;transform:translateY(0.19px) rotate(.05deg)">Last Week</div>
<div class="a" style="left:350.6px;top:101px;font-size:7.6px;color:#5b48ee;letter-spacing:-0.587px;transform:translateY(0.47px) rotate(.05deg);-webkit-text-stroke:0.2px #5b48ee">41,175</div>
<div class="a" style="left:350.6px;top:113px;font-size:4.7px;color:#44474d;letter-spacing:0.212px;transform:translateY(0.44px) rotate(.05deg)">Nights Sold</div>
<div class="a" style="left:350.6px;top:131px;font-size:5.8px;color:#1f1f23;letter-spacing:-0.007px;transform:translateY(0.19px) rotate(.05deg)">41,078</div>
<div class="a" style="left:350.6px;top:141px;font-size:4.6px;color:#33363b;letter-spacing:0.234px;transform:translateY(0.21px) rotate(.05deg)">Last Week</div>
<div class="a" style="left:436.6px;top:103px;font-size:4.5px;color:#8d93b5;letter-spacing:0.084px;transform:translateY(0.38px) rotate(.05deg)">0%</div>
<div class="a" style="left:465.9px;top:101px;font-size:7.6px;color:#5b48ee;letter-spacing:0.173px;transform:translateY(0.73px) rotate(.05deg);-webkit-text-stroke:0.2px #5b48ee">79.8</div>
<div class="a" style="left:465.9px;top:113px;font-size:4.7px;color:#44474d;letter-spacing:0.189px;transform:translateY(0.63px) rotate(.05deg)">Median Lead Time May 2023</div>
<div class="a" style="left:580.5px;top:101px;font-size:7.6px;color:#5b48ee;letter-spacing:-0.031px;transform:translateY(0.39px) rotate(.05deg);-webkit-text-stroke:0.2px #5b48ee">3.5</div>
<div class="a" style="left:580.5px;top:113px;font-size:4.7px;color:#44474d;letter-spacing:0.199px;transform:translateY(0.47px) rotate(.05deg)">Length of Stay May 2023</div>
<div class="a" style="left:115.1px;top:174px;font-size:5.6px;color:#5b48ee;letter-spacing:0.227px;transform:translateY(0.63px) rotate(.05deg);-webkit-text-stroke:0.25px #5b48ee">Occupancy</div>
<div class="a" style="left:158.1px;top:174px;font-size:5.6px;color:#8a8e95;letter-spacing:-0.306px;transform:translateY(0.95px) rotate(.05deg)">ADR</div>
<div class="a" style="left:182.5px;top:174px;font-size:5.6px;color:#8a8e95;letter-spacing:0.049px;transform:translateY(0.96px) rotate(.05deg)">RevPar</div>
<div class="a" style="left:115.3px;top:393px;font-size:8.2px;color:#1f1f23;letter-spacing:-0.062px;transform:translateY(0.46px) rotate(.05deg);-webkit-text-stroke:0.2px #1f1f23">Airbnb Pick-Up Insigths for May 2024</div>
<div class="a" style="left:115.3px;top:419px;font-size:5.6px;color:#8a8e95;letter-spacing:0.241px;transform:translateY(0.70px) rotate(.05deg)">Yesterday</div>
<div class="a" style="left:154.5px;top:419px;font-size:5.6px;color:#8a8e95;letter-spacing:0.095px;transform:translateY(0.66px) rotate(.05deg)">Last 7 Days</div>
<div class="a" style="left:198.1px;top:419px;font-size:5.6px;color:#5b48ee;letter-spacing:0.168px;transform:translateY(0.88px) rotate(.05deg);-webkit-text-stroke:0.25px #5b48ee">Last 30 Days</div>
<div class="a" style="left:288.2px;top:216px;font-size:4.7px;color:#45484d;letter-spacing:0.161px;transform:translateY(0.22px) rotate(.05deg)">Airbnb Index</div>
<div class="a" style="left:334.8px;top:216px;font-size:4.7px;color:#45484d;letter-spacing:0.176px;transform:translateY(0.15px) rotate(.05deg)">High Demand on Airbnb</div>
<div class="a" style="left:411.7px;top:216px;font-size:4.7px;color:#45484d;letter-spacing:0.154px;transform:translateY(0.13px) rotate(.05deg)">On the Books</div>
<div class="a" style="left:458.0px;top:216px;font-size:4.7px;color:#45484d;letter-spacing:0.135px;transform:translateY(0.14px) rotate(.05deg)">Same Time Last Year</div>
<div class="a" style="left:355.6px;top:461px;font-size:4.7px;color:#45484d;letter-spacing:0.179px;transform:translateY(0.38px) rotate(.05deg)">Airbnb Index</div>
<div class="a" style="left:407.3px;top:461px;font-size:4.7px;color:#45484d;letter-spacing:0.172px;transform:translateY(0.46px) rotate(.05deg)">On the Books</div>
</body></html>
